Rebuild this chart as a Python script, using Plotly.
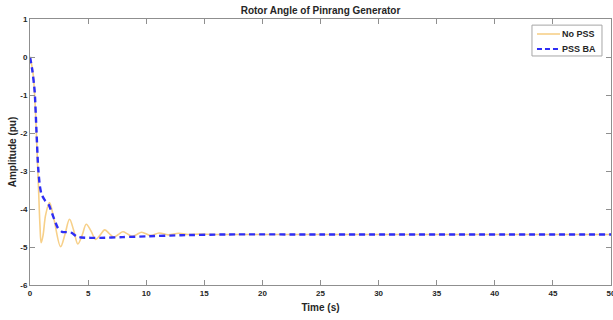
import plotly.graph_objects as go

# Data
t_nopss = [0, 0.25, 0.45, 0.6, 0.75, 0.86, 0.96, 1.12, 1.35, 1.68, 2.05, 2.63, 3.0, 3.4, 3.75,
           4.12, 4.5, 4.84, 5.25, 5.65, 6.05, 6.42, 6.8, 7.2, 7.6, 8.0, 8.4, 8.8, 9.2, 9.6,
           10.4, 11.1, 11.9, 12.8, 13.6, 14.5, 16, 20, 30, 40, 50]
y_nopss = [0, -0.4, -1.3, -2.4, -3.6, -4.45, -4.89, -4.7, -4.15, -3.83, -4.25, -4.99, -4.68, -4.27, -4.55,
           -4.92, -4.68, -4.40, -4.58, -4.80, -4.68, -4.55, -4.64, -4.74, -4.67, -4.60, -4.66, -4.72, -4.67, -4.61,
           -4.70, -4.63, -4.68, -4.64, -4.67, -4.66, -4.67, -4.67, -4.67, -4.67, -4.67]

t_pssba = [0, 0.2, 0.4, 0.55, 0.7, 0.85, 1.0, 1.3, 1.6, 2.0, 2.4, 2.75, 3.2, 3.6, 4.0, 4.4, 6, 8, 10,
           13, 17, 25, 50]
y_pssba = [0, -0.35, -0.9, -1.9, -2.9, -3.4, -3.62, -3.78, -3.88, -4.2, -4.5, -4.6, -4.61, -4.63, -4.72,
           -4.75, -4.76, -4.74, -4.72, -4.69, -4.67, -4.67, -4.67]

x_ticks = [0, 5, 10, 15, 20, 25, 30, 35, 40, 45, 50]
y_ticks = [1, 0, -1, -2, -3, -4, -5, -6]

series_names = ["No PSS", "PSS BA"]
series_colors = ["#F7D089", "#2E2EF5"]

fig = go.Figure()
fig.add_trace(go.Scatter(x=t_nopss, y=y_nopss, mode="lines", name=series_names[0], showlegend=False,
                         line=dict(color=series_colors[0], width=1.6, shape="spline", smoothing=1.0)))
fig.add_trace(go.Scatter(x=t_pssba, y=y_pssba, mode="lines", name=series_names[1], showlegend=False,
                         line=dict(color=series_colors[1], width=2.4, dash="6px,4px", shape="spline", smoothing=0.6)))

axis_common = dict(showgrid=False, zeroline=False, showline=True, linecolor="#8f8f8f", linewidth=1,
                   mirror="ticks", ticks="inside", ticklen=5, tickcolor="#8f8f8f", automargin=False,
                   ticklabeloverflow="allow",
                   tickfont=dict(family="Liberation Sans", size=8, color="#262626", weight="bold"))

title_font = dict(family="Liberation Sans", size=10, color="#262626", weight="bold")

fig.update_xaxes(range=[0, 50], tickvals=x_ticks, ticktext=[str(v) for v in x_ticks],
                 title=dict(text="Time (s)", font=title_font, standoff=7), **axis_common)
fig.update_yaxes(range=[-6, 1], tickvals=y_ticks, ticktext=[str(v) for v in y_ticks],
                 title=dict(text="Amplitude (pu)", font=title_font, standoff=1), **axis_common)

# Legend box drawn in the MATLAB style (paper coordinates of the plot area)
fig.add_shape(type="rect", xref="paper", yref="paper", x0=0.864, x1=0.9845, y0=0.861, y1=0.977,
              line=dict(color="#a6a6a6", width=1), fillcolor="white", layer="above")
legend_rows = [0.9436, 0.8872]
for name, color, yrow, dash, w in zip(series_names, series_colors, legend_rows, ["solid", "5px,3px"], [1.6, 2.2]):
    fig.add_shape(type="line", xref="paper", yref="paper", x0=0.8726, x1=0.9122, y0=yrow, y1=yrow,
                  line=dict(color=color, width=w, dash=dash), layer="above")
    fig.add_annotation(xref="paper", yref="paper", x=0.913, y=yrow, text=name, showarrow=False,
                       xanchor="left", yanchor="middle", xshift=0,
                       font=dict(family="Liberation Sans", size=9, color="#262626", weight="bold"))

fig.update_layout(
    width=613, height=320,
    margin=dict(l=30, r=2, t=19, b=35, autoexpand=False),
    paper_bgcolor="white", plot_bgcolor="white",
    title=dict(text="Rotor Angle of Pinrang Generator", xref="paper", x=0.5, xanchor="center",
               yref="container", y=0.979, yanchor="top", font=title_font),
    showlegend=False,
)

fig.write_html("out.html", post_script="document.body.style.margin='0px';",
               config={"displayModeBar": False})
